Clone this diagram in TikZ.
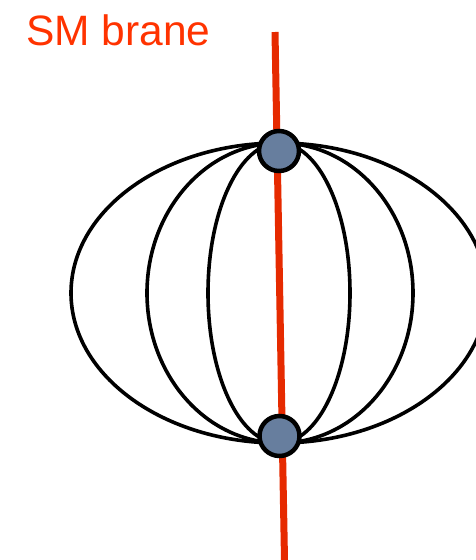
\documentclass[tikz,border=0pt]{standalone}
\usepackage{fontspec}
\setmainfont{Liberation Sans}
\definecolor{branered}{HTML}{E62A00}
\definecolor{textred}{HTML}{FF3300}
\definecolor{dotfill}{HTML}{677E9E}
\tikzset{
  loop/.style={draw=black, line width=3.6pt},
  brane/.style={draw=branered, line width=7pt},
  vertex/.style={circle, draw=black, line width=4.5pt, fill=dotfill, minimum size=40pt, inner sep=0pt}
}
\begin{document}
\begin{tikzpicture}[x=1pt,y=-1pt]
\useasboundingbox (0,0) rectangle (476,560);
\begin{scope}
\clip (0,0) rectangle (476,560);
\draw[loop] (279,293) ellipse [x radius=208, y radius=150];
\draw[loop] (280,293) ellipse [x radius=133, y radius=150];
\draw[loop] (279,293) ellipse [x radius=71, y radius=150];
\coordinate (btop) at (275,32);
\coordinate (bbot) at (284.5,560);
\draw[brane] (btop) -- (bbot);
\end{scope}
\node[vertex] (v1) at (279,151) {};
\node[vertex] (v2) at (279.5,436) {};
\node[text=textred, font=\fontsize{42.5}{46}\selectfont, anchor=base west, inner sep=0pt] (lbl) at (26,45) {SM brane};
\end{tikzpicture}
\end{document}
